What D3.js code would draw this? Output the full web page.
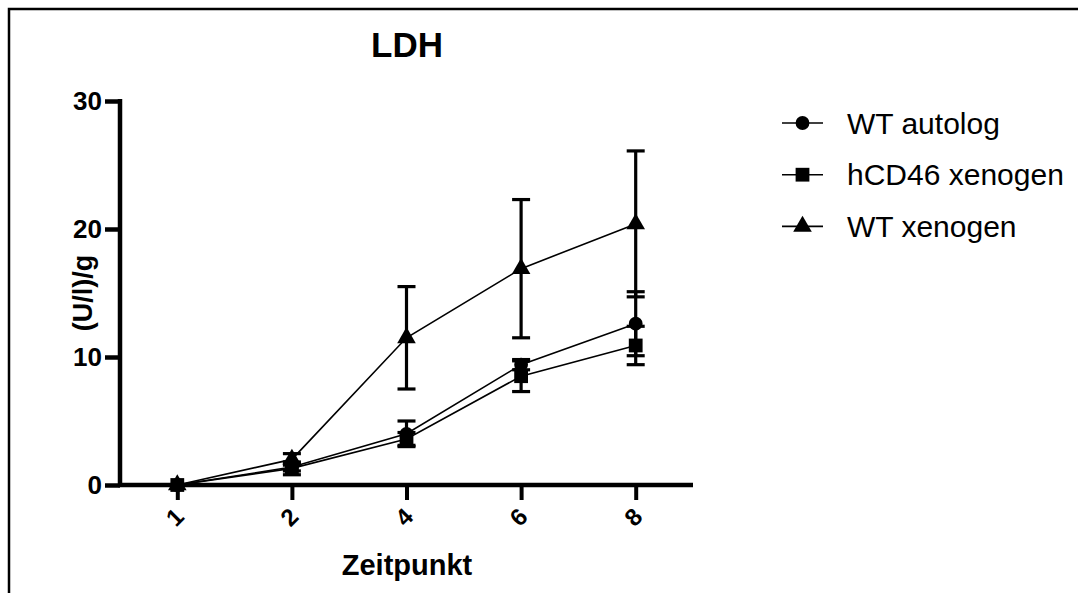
<!DOCTYPE html>
<html>
<head>
<meta charset="utf-8">
<script src="https://cdn.jsdelivr.net/npm/d3@7"></script>
<style>
  body { margin: 0; background: #fff; }
  text { font-family: "Liberation Sans", Arial, sans-serif; fill: #000; }
</style>
</head>
<body>
<svg class="chart"></svg>
<script>
const width = 1078;
const height = 593;

// values
const timepoints = ["1", "2", "4", "6", "8"];
const yTicks = [0, 10, 20, 30];
const seriesNames = ["WT autolog", "hCD46 xenogen", "WT xenogen"];
const wtAutolog = [0, 1.4, 4.0, 9.4, 12.6];
const wtAutologErr = [0, 0.3, 1.0, 0.4, 2.5];
const hcd46Xeno = [0, 1.3, 3.6, 8.5, 10.9];
const hcd46XenoErr = [0, 0.5, 0.5, 1.2, 1.5];
const wtXeno = [0, 2.0, 11.5, 16.9, 20.4];
const wtXenoErr = [0, 0.45, 4.0, 5.4, 5.7];

const series = [
  { name: seriesNames[0], values: wtAutolog, err: wtAutologErr, shape: d3.symbolCircle, size: 150 },
  { name: seriesNames[1], values: hcd46Xeno, err: hcd46XenoErr, shape: d3.symbolSquare, size: 190 },
  { name: seriesNames[2], values: wtXeno, err: wtXenoErr, shape: d3.symbolTriangle, size: 150 }
];

const svg = d3.select('.chart')
  .attr('width', width).attr('height', height);

// outer frame
svg.append('rect')
  .attr('x', 9).attr('y', 9)
  .attr('width', 1100).attr('height', 620)
  .attr('fill', 'none').attr('stroke', '#000').attr('stroke-width', 2.5);

const x = d3.scalePoint().domain(timepoints).range([120, 693]).padding(0.5);
const y = d3.scaleLinear().domain([0, 30]).range([485, 101]);

// y axis
const yAxis = svg.append('g')
  .attr('transform', 'translate(120,0)')
  .call(d3.axisLeft(y).tickValues(yTicks).tickSize(15).tickPadding(3));
yAxis.select('.domain').attr('d', 'M0,' + (y(30) - 2) + 'V' + (y(0) + 2))
  .attr('stroke-width', 4.5);
yAxis.selectAll('.tick line').attr('stroke-width', 4.5);
yAxis.selectAll('.tick text')
  .style('font-size', '26px').style('font-weight', 'bold');

// x axis
const xAxis = svg.append('g')
  .attr('transform', 'translate(0,485)')
  .call(d3.axisBottom(x).tickSize(15).tickSizeOuter(0));
xAxis.select('.domain').attr('d', 'M118,0H693').attr('stroke-width', 4.5);
xAxis.selectAll('.tick line').attr('stroke-width', 4);
xAxis.selectAll('.tick text')
  .attr('x', -3).attr('y', 32).attr('dy', '0.35em')
  .attr('transform', 'rotate(-45,-3,32)')
  .style('font-size', '24px').style('font-weight', 'bold');

// titles
svg.append('text')
  .attr('x', 407).attr('y', 57)
  .attr('text-anchor', 'middle')
  .style('font-size', '35px').style('font-weight', 'bold')
  .text('LDH');

svg.append('text')
  .attr('transform', 'translate(92,293) rotate(-90)')
  .attr('text-anchor', 'middle')
  .style('font-size', '27px').style('font-weight', 'bold')
  .text('(U/l)/g');

svg.append('text')
  .attr('x', 407).attr('y', 575)
  .attr('text-anchor', 'middle')
  .style('font-size', '29px').style('font-weight', 'bold')
  .text('Zeitpunkt');

const line = d3.line()
  .x((d, i) => x(timepoints[i]))
  .y(d => y(d));

const plot = svg.append('g');

series.forEach(s => {
  plot.append('path')
    .datum(s.values)
    .attr('d', line)
    .attr('fill', 'none').attr('stroke', '#000').attr('stroke-width', 1.6);

  const bars = plot.append('g');
  s.values.forEach((v, i) => {
    const e = s.err[i];
    if (!e) return;
    const cx = x(timepoints[i]);
    bars.append('line')
      .attr('x1', cx).attr('x2', cx)
      .attr('y1', y(v - e)).attr('y2', y(v + e))
      .attr('stroke', '#000').attr('stroke-width', 3.2);
    [v - e, v + e].forEach(c => {
      bars.append('line')
        .attr('x1', cx - 9).attr('x2', cx + 9)
        .attr('y1', y(c)).attr('y2', y(c))
        .attr('stroke', '#000').attr('stroke-width', 3.2);
    });
  });

  plot.append('g').selectAll('path')
    .data(s.values)
    .enter()
    .append('path')
    .attr('transform', (d, i) => 'translate(' + x(timepoints[i]) + ',' + y(d) + ')')
    .attr('d', d3.symbol().type(s.shape).size(s.size))
    .attr('fill', '#000');
});

// legend
const legend = svg.append('g').attr('transform', 'translate(782,123)');
series.forEach((s, i) => {
  const row = legend.append('g').attr('transform', 'translate(0,' + (i * 51.7) + ')');
  row.append('line')
    .attr('x1', 0).attr('x2', 41).attr('y1', 0).attr('y2', 0)
    .attr('stroke', '#000').attr('stroke-width', 1.6);
  row.append('path')
    .attr('transform', 'translate(20.5,0)')
    .attr('d', d3.symbol().type(s.shape).size(s.size))
    .attr('fill', '#000');
  row.append('text')
    .attr('x', 65).attr('y', 0).attr('dy', '0.35em')
    .style('font-size', '30px')
    .text(s.name);
});
</script>
</body>
</html>
